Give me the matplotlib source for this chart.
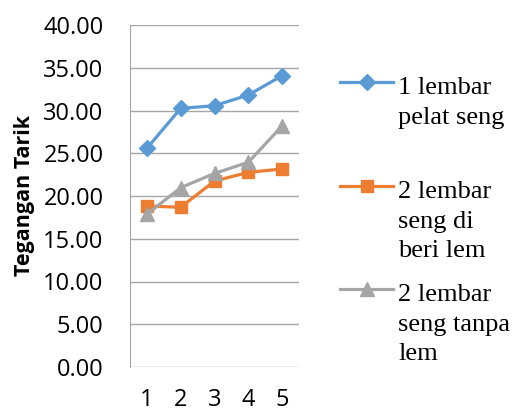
import matplotlib
matplotlib.use("Agg")
import matplotlib.pyplot as plt
from matplotlib.lines import Line2D

categories = [1, 2, 3, 4, 5]
series_names = ["1 lembar\npelat seng", "2 lembar\nseng di\nberi lem", "2 lembar\nseng tanpa\nlem"]
s1 = [25.58, 30.25, 30.56, 31.81, 34.07]
s2 = [18.83, 18.68, 21.75, 22.77, 23.16]
s3 = [17.86, 20.97, 22.64, 23.94, 28.19]
yticks = [0, 5, 10, 15, 20, 25, 30, 35, 40]

colors = ["#5B9BD5", "#ED7D31", "#A5A5A5"]
markers = ["D", "s", "^"]
msizes = [8, 9, 10]

fig = plt.figure(figsize=(5.13, 4.13), dpi=100)
W, H = 513, 413
ax = fig.add_axes([130 / W, 1 - 367 / H, (299 - 130) / W, (367 - 25) / H])

for vals, c, m, ms in zip([s1, s2, s3], colors, markers, msizes):
    ax.plot(categories, vals, color=c, lw=2.3, marker=m, markersize=ms,
            markeredgecolor=c, markerfacecolor=c, zorder=3, clip_on=False)

ax.set_xlim(0.5, 5.5)
ax.set_ylim(0, 40)
ax.set_yticks(yticks)
ax.set_yticklabels([f"{v:.2f}" for v in yticks])
ax.set_xticks(categories)
ax.set_xticklabels([str(c) for c in categories])
ax.grid(axis="y", color="#A6A6A6", lw=1.0)
ax.set_axisbelow(True)
for s in ["top", "right", "bottom"]:
    ax.spines[s].set_visible(False)
ax.spines["left"].set_color("#A6A6A6")
ax.tick_params(axis="both", length=0, labelsize=17, colors="#000000")
ax.tick_params(axis="y", pad=19)
ax.tick_params(axis="x", pad=15)
for lab in ax.get_xticklabels() + ax.get_yticklabels():
    lab.set_family("Open Sans")

ax.set_ylabel("Tegangan Tarik", fontsize=15.5, fontweight="bold", family="Open Sans", labelpad=6)

# manual legend
leg_y = [82, 186, 289]
for name, c, m, ms, yy in zip(series_names, colors, markers, msizes, leg_y):
    yf = 1 - yy / H
    fig.add_artist(Line2D([340 / W, 393 / W], [yf, yf], color=c, lw=2.3,
                          transform=fig.transFigure))
    fig.add_artist(Line2D([366.5 / W], [yf], color=c, marker=m, markersize=ms,
                          transform=fig.transFigure))
    fig.text(398 / W, yf + 5 / H, name, family="Liberation Serif", fontsize=19,
             va="top", ha="left", linespacing=1.45)

fig.savefig("out.png", dpi=100)
